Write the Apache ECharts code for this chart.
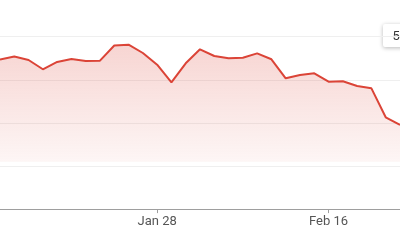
<!DOCTYPE html>
<html>
<head>
<meta charset="utf-8">
<script src="https://cdn.jsdelivr.net/npm/echarts@6/dist/echarts.min.js"></script>
<style>html,body{margin:0;padding:0;background:#fff;}#c{width:400px;height:240px;}</style>
</head>
<body>
<div id="c"></div>
<script>
var categories = ['Jan 12','Jan 13','Jan 14','Jan 15','Jan 19','Jan 20','Jan 21','Jan 22','Jan 25','Jan 26','Jan 27','Jan 28','Jan 29','Feb 1','Feb 2','Feb 3','Feb 4','Feb 5','Feb 8','Feb 9','Feb 10','Feb 11','Feb 12','Feb 16','Feb 17','Feb 18','Feb 19','Feb 22','Feb 23'];
var prices = [52.36,52.70,52.30,51.22,52.07,52.41,52.18,52.22,53.98,54.07,53.11,51.75,49.69,51.91,53.54,52.76,52.49,52.56,53.07,52.38,50.17,50.56,50.75,49.78,49.83,49.28,49.01,45.65,44.76];
var tickLabels = ['Jan 28','Feb 16'];
var yMin = 35, yMax = 55, yStep = 5;
var areaBase = 40.5;
var tooltipText = '55.00';

var chart = echarts.init(document.getElementById('c'), null, {renderer:'canvas'});
var showTick = function (idx, val) { return tickLabels.indexOf(val) >= 0; };
chart.setOption({
  animation: false,
  grid: {left: -5.4, right: -7.3, top: 36.7, bottom: 30.9, containLabel: false},
  xAxis: {
    type: 'category',
    boundaryGap: false,
    data: categories,
    axisLine: {lineStyle: {color: '#9e9e9e', width: 1}},
    axisTick: {show: true, length: 4, interval: showTick, lineStyle: {color: '#9e9e9e'}},
    axisLabel: {interval: showTick, color: '#555', fontSize: 13, fontFamily: 'Roboto', margin: 6},
    splitLine: {show: false}
  },
  yAxis: {
    type: 'value',
    min: yMin, max: yMax, interval: yStep,
    axisLine: {show: false}, axisTick: {show: false}, axisLabel: {show: false},
    splitLine: {lineStyle: {color: '#efefef', width: 1}}
  },
  series: [{
    type: 'line',
    data: prices,
    symbol: 'none',
    smooth: false,
    lineStyle: {color: '#db4437', width: 2},
    areaStyle: {
      origin: areaBase,
      color: new echarts.graphic.LinearGradient(0, 0, 0, 1, [
        {offset: 0, color: 'rgba(219,68,55,0.32)'},
        {offset: 1, color: 'rgba(219,68,55,0.07)'}
      ])
    }
  }],
  graphic: [{
    type: 'group',
    children: [{
      type: 'rect',
      shape: {x: 383, y: 24, width: 40, height: 23, r: 2},
      style: {fill: '#fff', shadowBlur: 4, shadowColor: 'rgba(0,0,0,0.28)', shadowOffsetY: 1}
    }, {
      type: 'text',
      style: {x: 392.5, y: 36.5, text: tooltipText, fill: '#333', font: '13px Roboto', verticalAlign: 'middle', align: 'left'}
    }]
  }]
});
</script>
</body>
</html>
